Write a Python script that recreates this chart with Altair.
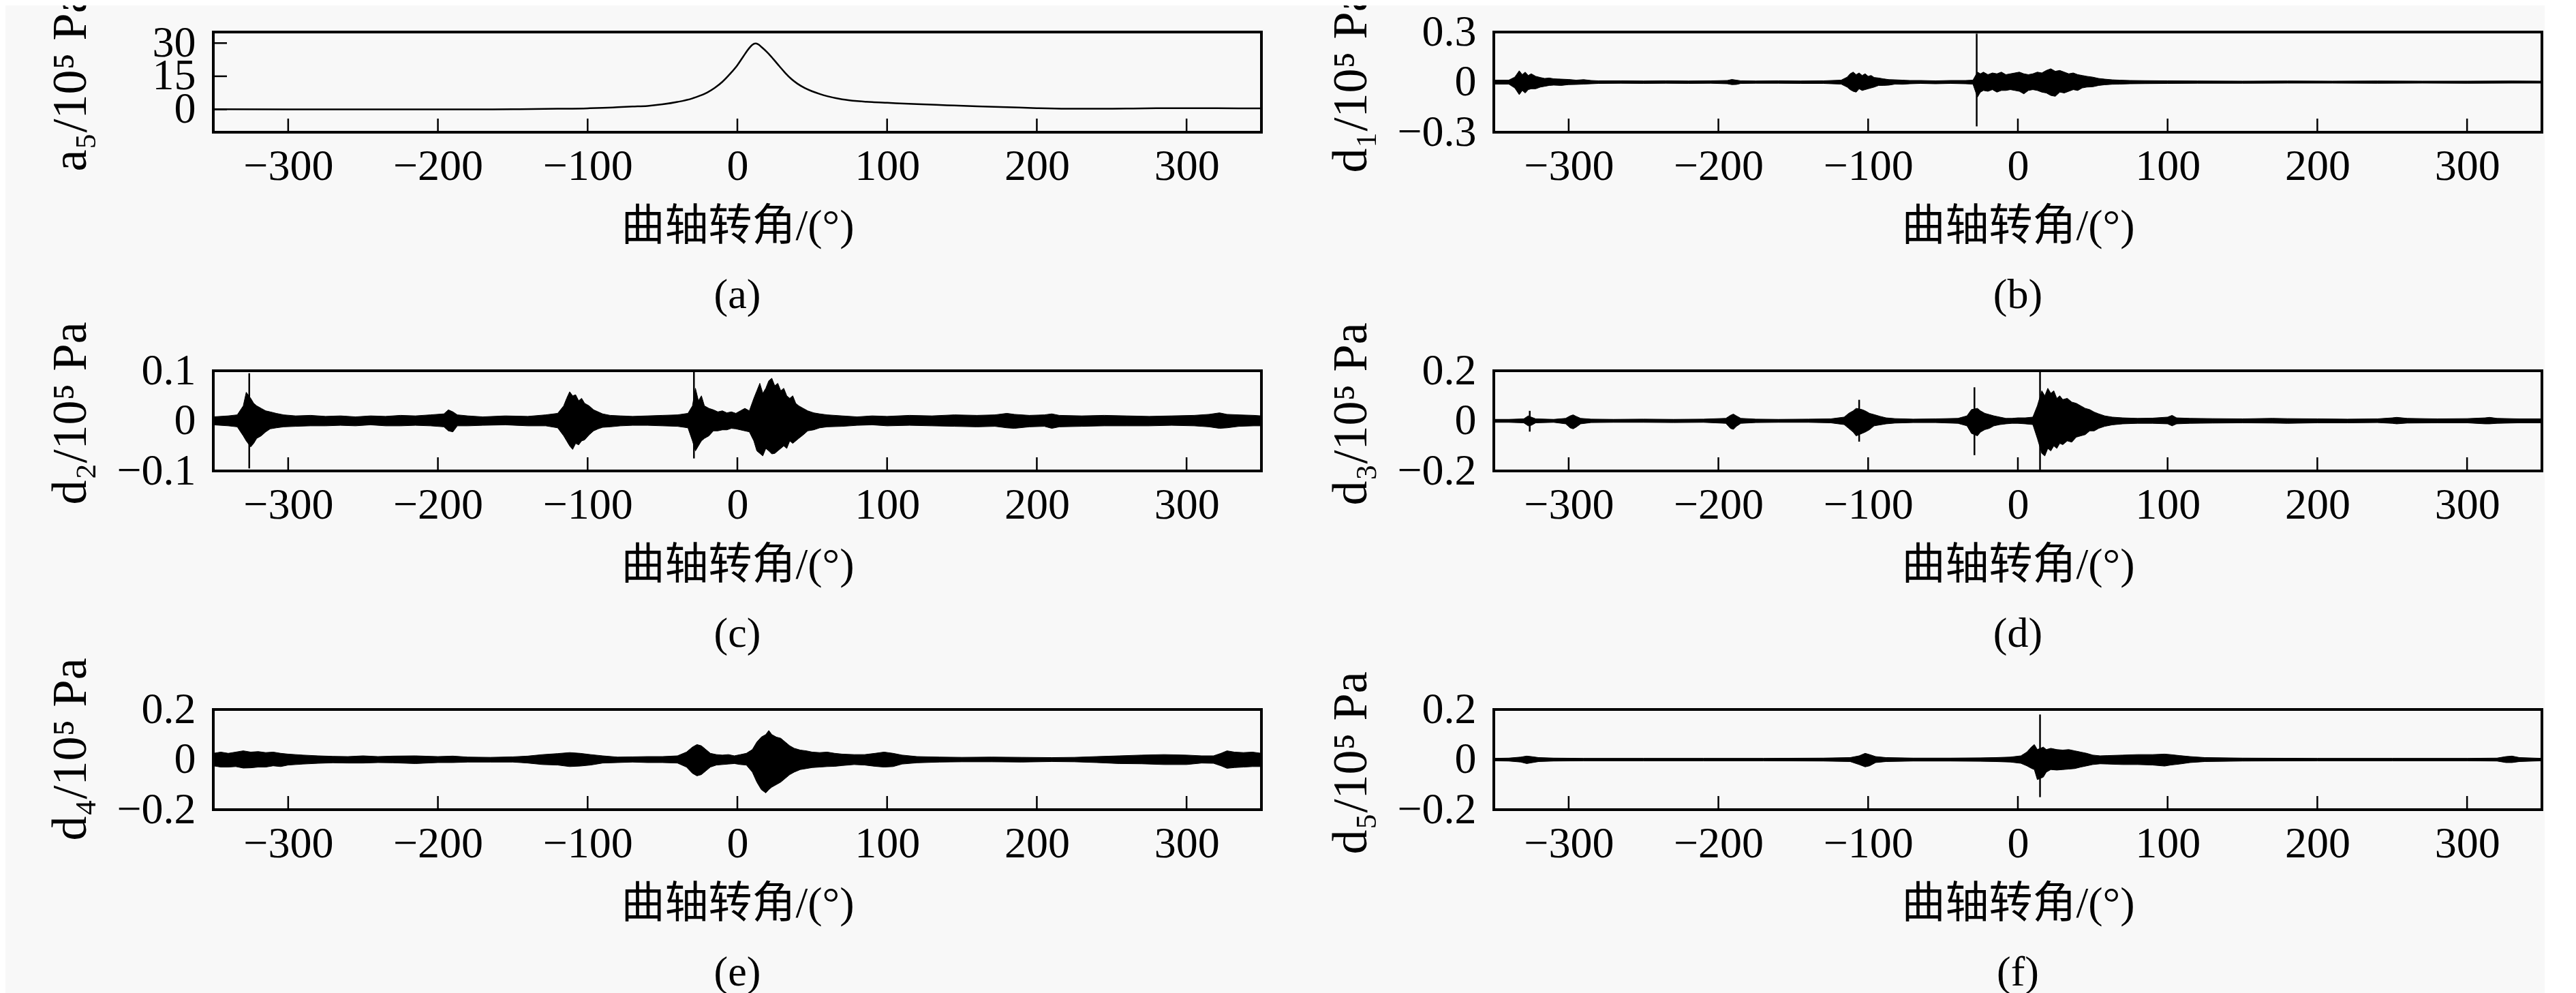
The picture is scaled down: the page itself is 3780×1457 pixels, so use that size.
import altair as alt
import pandas as pd

FONT = "Liberation Serif, Noto Sans CJK SC"
W, H = 1538, 147
X_DOMAIN = [-350, 350]
X_TICKS = [-300, -200, -100, 0, 100, 200, 300]
X_TITLE = "曲轴转角/(°)"

# (a) approximation a5 : (angle, value)
a5 = [(-350, 0.1), (-300, 0.05), (-250, 0.0), (-200, 0.0), (-150, 0.1), (-120, 0.3),
      (-100, 0.5), (-90, 0.7), (-80, 1.0), (-70, 1.3), (-60, 1.6), (-50, 2.3), (-40, 3.4),
      (-30, 5.0), (-25, 6.2), (-20, 7.7), (-15, 9.8), (-10, 12.5), (-5, 16.0), (0, 20.0),
      (4, 24.0), (8, 27.8), (10, 29.2), (12, 29.8), (14, 29.4), (16, 28.3), (20, 25.8),
      (24, 22.8), (28, 19.6), (32, 16.5), (36, 13.8), (40, 11.7), (45, 9.7), (50, 8.2),
      (55, 7.0), (60, 6.0), (70, 4.6), (80, 3.8), (90, 3.3), (100, 3.0), (120, 2.4),
      (140, 1.9), (160, 1.4), (180, 1.0), (200, 0.6), (220, 0.35), (240, 0.3), (260, 0.4),
      (280, 0.55), (300, 0.6), (320, 0.55), (350, 0.5)]

# detail signals: envelope (angle, upper, lower)
d1 = [(-350,.012,-.012),(-340,.012,-.012),(-336,.03,-.035),(-333,.068,-.075),(-331,.045,-.05),(-329,.06,-.065),(-327,.04,-.045),(-325,.05,-.04),(-322,.035,-.04),(-319,.028,-.03),(-316,.022,-.025),(-313,.025,-.02),(-310,.02,-.018),(-305,.018,-.02),(-300,.016,-.015),(-295,.012,-.014),(-290,.015,-.012),(-285,.01,-.01),(-280,.008,-.008),(-265,.008,-.007),(-250,.007,-.008),(-235,.008,-.007),(-220,.007,-.008),(-205,.008,-.007),(-194,.01,-.01),(-191,.016,-.015),(-188,.012,-.014),(-185,.008,-.008),(-175,.007,-.007),(-160,.008,-.007),(-145,.007,-.008),(-130,.008,-.008),(-118,.012,-.012),(-114,.03,-.03),(-112,.05,-.045),(-110,.06,-.055),(-108,.045,-.06),(-106,.055,-.04),(-104,.04,-.05),(-102,.05,-.045),(-100,.035,-.04),(-98,.04,-.035),(-96,.028,-.03),(-93,.025,-.02),(-90,.02,-.02),(-86,.015,-.018),(-82,.014,-.012),(-77,.012,-.013),(-72,.01,-.01),(-65,.01,-.008),(-55,.008,-.01),(-45,.01,-.008),(-35,.01,-.01),(-30,.012,-.012),(-27,.06,-.09),(-25,.05,-.06),(-23,.06,-.05),(-20,.045,-.055),(-17,.055,-.045),(-14,.05,-.06),(-11,.06,-.05),(-8,.045,-.05),(-5,.05,-.045),(-2,.055,-.05),(1,.06,-.055),(4,.05,-.07),(7,.045,-.05),(10,.05,-.045),(13,.06,-.05),(16,.055,-.06),(19,.07,-.065),(22,.08,-.08),(25,.065,-.085),(28,.07,-.06),(31,.06,-.065),(34,.05,-.055),(37,.055,-.045),(40,.045,-.05),(43,.04,-.035),(46,.035,-.03),(50,.03,-.028),(54,.022,-.02),(58,.018,-.016),(63,.014,-.013),(68,.012,-.012),(75,.01,-.01),(85,.009,-.009),(100,.008,-.008),(120,.007,-.007),(150,.006,-.007),(180,.007,-.006),(210,.006,-.006),(240,.007,-.007),(270,.006,-.006),(300,.006,-.007),(330,.007,-.006),(350,.006,-.006)]
d1_spikes = [(-27.5, .29, -.265)]

d2 = [(-350,.008,-.008),(-340,.01,-.01),(-334,.012,-.012),(-330,.03,-.03),(-328,.057,-.04),(-325,.045,-.052),(-323,.035,-.045),(-321,.03,-.035),(-318,.025,-.03),(-315,.02,-.022),(-312,.018,-.016),(-308,.015,-.014),(-303,.012,-.012),(-295,.01,-.011),(-285,.011,-.01),(-275,.009,-.01),(-265,.01,-.009),(-255,.008,-.01),(-245,.01,-.008),(-235,.009,-.01),(-225,.011,-.01),(-215,.01,-.009),(-205,.012,-.01),(-196,.014,-.012),(-193,.022,-.02),(-190,.018,-.022),(-187,.012,-.01),(-180,.01,-.01),(-170,.008,-.009),(-155,.01,-.008),(-140,.009,-.01),(-128,.012,-.01),(-120,.015,-.014),(-116,.03,-.03),(-114,.045,-.04),(-112,.058,-.05),(-110,.05,-.057),(-108,.052,-.045),(-106,.04,-.048),(-104,.045,-.04),(-102,.035,-.038),(-99,.03,-.028),(-96,.022,-.02),(-93,.018,-.016),(-90,.014,-.013),(-85,.011,-.012),(-78,.01,-.01),(-70,.009,-.009),(-60,.01,-.009),(-50,.011,-.01),(-40,.012,-.011),(-33,.015,-.014),(-30,.03,-.04),(-28,.065,-.06),(-26,.04,-.05),(-24,.05,-.04),(-22,.03,-.035),(-19,.025,-.03),(-16,.022,-.02),(-13,.018,-.02),(-10,.02,-.018),(-7,.016,-.018),(-4,.018,-.015),(-1,.015,-.016),(2,.02,-.018),(5,.025,-.02),(8,.02,-.022),(11,.045,-.04),(13,.06,-.06),(15,.075,-.065),(17,.055,-.07),(19,.065,-.055),(21,.08,-.06),(23,.085,-.066),(25,.07,-.065),(27,.075,-.06),(29,.06,-.055),(31,.065,-.05),(33,.05,-.055),(35,.045,-.04),(37,.05,-.045),(39,.035,-.04),(41,.03,-.035),(44,.025,-.028),(47,.02,-.02),(51,.016,-.018),(55,.014,-.014),(60,.012,-.012),(70,.01,-.011),(80,.008,-.009),(90,.01,-.008),(100,.009,-.01),(115,.011,-.009),(130,.01,-.01),(145,.012,-.011),(160,.011,-.012),(172,.012,-.011),(180,.015,-.014),(185,.013,-.015),(195,.011,-.012),(205,.012,-.011),(210,.014,-.015),(215,.011,-.012),(230,.01,-.011),(245,.011,-.01),(260,.01,-.01),(275,.009,-.01),(290,.01,-.009),(305,.011,-.01),(315,.013,-.012),(322,.016,-.015),(327,.013,-.014),(335,.012,-.011),(345,.011,-.01),(350,.01,-.01)]
d2_spikes = [(-326, .095, -.095), (-29, .098, -.075)]

d3 = [(-350,.006,-.006),(-340,.006,-.006),(-330,.008,-.008),(-327,.02,-.02),(-325,.015,-.018),(-322,.008,-.008),(-310,.006,-.006),(-302,.01,-.012),(-299,.02,-.028),(-297,.024,-.032),(-295,.018,-.025),(-292,.01,-.012),(-285,.007,-.007),(-270,.006,-.006),(-250,.007,-.006),(-230,.006,-.007),(-210,.007,-.006),(-195,.01,-.01),(-192,.022,-.03),(-190,.027,-.034),(-188,.02,-.022),(-185,.01,-.01),(-175,.007,-.007),(-160,.006,-.006),(-140,.007,-.006),(-125,.008,-.008),(-116,.015,-.015),(-113,.03,-.03),(-110,.04,-.045),(-108,.05,-.06),(-104,.045,-.05),(-102,.04,-.045),(-99,.03,-.035),(-96,.025,-.02),(-92,.018,-.016),(-88,.012,-.012),(-82,.009,-.009),(-70,.007,-.007),(-55,.008,-.007),(-40,.01,-.01),(-34,.02,-.02),(-31,.045,-.05),(-27,.05,-.06),(-25,.04,-.045),(-22,.03,-.035),(-19,.025,-.03),(-16,.02,-.02),(-12,.015,-.015),(-8,.01,-.012),(-4,.01,-.01),(0,.012,-.01),(5,.012,-.012),(10,.015,-.015),(13,.06,-.07),(16,.12,-.13),(18,.1,-.14),(20,.13,-.11),(22,.11,-.12),(24,.12,-.1),(26,.09,-.11),(28,.1,-.09),(30,.085,-.095),(33,.09,-.08),(36,.075,-.085),(39,.07,-.065),(42,.06,-.06),(45,.05,-.055),(48,.045,-.04),(51,.035,-.04),(54,.028,-.03),(58,.02,-.022),(63,.015,-.016),(70,.012,-.012),(80,.01,-.01),(90,.011,-.01),(100,.015,-.012),(103,.022,-.02),(106,.012,-.012),(115,.01,-.01),(130,.009,-.009),(150,.008,-.008),(170,.01,-.009),(180,.009,-.01),(200,.008,-.008),(220,.007,-.008),(240,.008,-.007),(250,.012,-.01),(253,.014,-.012),(260,.01,-.009),(280,.008,-.008),(300,.009,-.008),(312,.012,-.012),(315,.014,-.012),(320,.01,-.01),(335,.008,-.008),(350,.008,-.008)]
d3_spikes = [(-326, .04, -.043), (-106, .084, -.083), (-29, .134, -.137), (14.8, .198, -.195)]

d4 = [(-350,.025,-.025),(-345,.03,-.03),(-340,.025,-.03),(-335,.03,-.028),(-330,.035,-.034),(-325,.03,-.033),(-320,.032,-.03),(-315,.028,-.03),(-310,.03,-.025),(-305,.025,-.028),(-300,.022,-.022),(-295,.02,-.02),(-290,.018,-.018),(-280,.015,-.015),(-270,.013,-.013),(-260,.012,-.014),(-250,.015,-.014),(-240,.012,-.012),(-230,.014,-.013),(-215,.015,-.016),(-200,.012,-.012),(-190,.014,-.012),(-180,.01,-.01),(-165,.009,-.01),(-150,.011,-.01),(-140,.014,-.014),(-130,.02,-.02),(-120,.024,-.022),(-112,.028,-.028),(-105,.025,-.026),(-98,.02,-.022),(-90,.015,-.014),(-80,.01,-.012),(-70,.011,-.01),(-60,.012,-.012),(-50,.012,-.012),(-40,.015,-.014),(-34,.03,-.03),(-30,.05,-.055),(-27,.06,-.065),(-24,.055,-.06),(-21,.04,-.045),(-18,.025,-.03),(-14,.02,-.022),(-10,.018,-.02),(-6,.02,-.018),(-2,.015,-.016),(2,.02,-.02),(6,.025,-.022),(10,.04,-.05),(13,.07,-.09),(16,.09,-.12),(19,.1,-.133),(21,.116,-.12),(23,.1,-.11),(26,.09,-.1),(29,.085,-.09),(32,.07,-.075),(35,.055,-.06),(38,.045,-.05),(42,.038,-.04),(46,.035,-.036),(50,.03,-.032),(55,.028,-.03),(60,.03,-.028),(65,.025,-.027),(70,.022,-.024),(78,.02,-.02),(85,.02,-.022),(92,.025,-.027),(98,.03,-.03),(104,.025,-.028),(110,.018,-.018),(120,.012,-.013),(135,.01,-.01),(150,.009,-.009),(170,.01,-.009),(190,.009,-.01),(210,.008,-.008),(225,.009,-.009),(240,.012,-.012),(255,.015,-.016),(270,.018,-.017),(285,.02,-.02),(300,.018,-.02),(310,.015,-.014),(318,.015,-.015),(323,.025,-.025),(327,.035,-.035),(332,.03,-.032),(338,.028,-.03),(344,.03,-.028),(350,.025,-.028)]
d4_spikes = []

d5 = [(-350,.005,-.005),(-340,.006,-.006),(-332,.01,-.01),(-328,.014,-.016),(-325,.012,-.013),(-320,.008,-.008),(-310,.006,-.006),(-290,.005,-.005),(-250,.005,-.005),(-210,.005,-.005),(-170,.005,-.005),(-130,.006,-.006),(-112,.008,-.008),(-106,.015,-.02),(-102,.025,-.029),(-99,.02,-.025),(-95,.012,-.012),(-88,.008,-.008),(-70,.006,-.006),(-45,.006,-.006),(-25,.007,-.007),(-15,.008,-.008),(-5,.01,-.01),(2,.015,-.015),(6,.03,-.025),(9,.05,-.035),(11,.06,-.04),(13,.04,-.08),(17,.05,-.07),(19,.04,-.05),(22,.045,-.04),(26,.04,-.042),(30,.038,-.04),(34,.04,-.038),(38,.035,-.036),(42,.03,-.03),(46,.025,-.025),(50,.018,-.02),(55,.015,-.017),(60,.016,-.018),(70,.018,-.02),(80,.02,-.02),(90,.02,-.022),(98,.022,-.026),(102,.02,-.022),(108,.016,-.018),(115,.012,-.012),(125,.008,-.008),(150,.006,-.006),(200,.005,-.005),(250,.005,-.005),(300,.005,-.005),(320,.006,-.006),(326,.012,-.012),(330,.014,-.012),(335,.008,-.008),(350,.005,-.005)]
d5_spikes = [(14.8, .18, -.15)]

# panel axes settings
a5_ydom, a5_yticks = [-10.3, 35], [0, 15, 30]
d1_ydom, d1_yticks = [-0.3, 0.3], [-0.3, 0, 0.3]
d2_ydom, d2_yticks = [-0.1, 0.1], [-0.1, 0, 0.1]
d3_ydom, d3_yticks = [-0.2, 0.2], [-0.2, 0, 0.2]
d4_ydom, d4_yticks = [-0.2, 0.2], [-0.2, 0, 0.2]
d5_ydom, d5_yticks = [-0.2, 0.2], [-0.2, 0, 0.2]


def encs(ydom, yticks, fmt, ytitle, ty):
    xe = alt.X("x:Q", scale=alt.Scale(domain=X_DOMAIN, nice=False, zero=False),
               axis=alt.Axis(values=X_TICKS, title=X_TITLE, titleY=106, labelPadding=18))
    ye = alt.Y("y:Q", scale=alt.Scale(domain=ydom, nice=False, zero=False),
               axis=alt.Axis(values=yticks, format=fmt, title=ytitle, titleX=-188,
                             titleY=ty, titleAngle=270, titleBaseline="alphabetic",
                             titleFontSize=72, labelPadding=26))
    return xe, ye


def tick_layers(xe, ye, yticks):
    xt = alt.Chart(pd.DataFrame({"x": X_TICKS})).mark_rule(color="black", strokeWidth=2.5).encode(
        x=xe, y=alt.value(H), y2=alt.value(H - 20))
    yt = alt.Chart(pd.DataFrame({"y": yticks})).mark_rule(color="black", strokeWidth=2.5).encode(
        y=ye, x=alt.value(0), x2=alt.value(20))
    return [xt, yt]


def caption(t):
    return alt.TitleParams(t, orient="bottom", offset=39, fontSize=62, font=FONT,
                           fontWeight="normal", anchor="middle", color="black")


def line_panel(series, ydom, yticks, ytitle, ty, cap):
    xe, ye = encs(ydom, yticks, "d", ytitle, ty)
    df = pd.DataFrame(series, columns=["x", "y"])
    ln = alt.Chart(df).mark_line(color="black", strokeWidth=2.5, interpolate="monotone").encode(x=xe, y=ye)
    return alt.layer(ln, *tick_layers(xe, ye, yticks)).properties(width=W, height=H, title=caption(cap))


def detail_panel(series, spikes, ydom, yticks, ytitle, ty, cap):
    xe, ye = encs(ydom, yticks, ".1~f", ytitle, ty)
    df = pd.DataFrame(series, columns=["x", "y", "y2"])
    ar = alt.Chart(df).mark_area(color="black", stroke="black", strokeWidth=1).encode(
        x=xe, y=ye, y2="y2:Q")
    layers = [ar]
    if spikes:
        sp = pd.DataFrame(spikes, columns=["x", "y", "y2"])
        layers.append(alt.Chart(sp).mark_rule(color="black", strokeWidth=2.5).encode(
            x=xe, y=ye, y2="y2:Q"))
    return alt.layer(*layers, *tick_layers(xe, ye, yticks)).properties(width=W, height=H, title=caption(cap))


pa = line_panel(a5, a5_ydom, a5_yticks, "a₅/10⁵ Pa", 72, "(a)")
pb = detail_panel(d1, d1_spikes, d1_ydom, d1_yticks, "d₁/10⁵ Pa", 72, "(b)")
pc = detail_panel(d2, d2_spikes, d2_ydom, d2_yticks, "d₂/10⁵ Pa", 62, "(c)")
pd_ = detail_panel(d3, d3_spikes, d3_ydom, d3_yticks, "d₃/10⁵ Pa", 63, "(d)")
pe = detail_panel(d4, d4_spikes, d4_ydom, d4_yticks, "d₄/10⁵ Pa", 58, "(e)")
pf = detail_panel(d5, d5_spikes, d5_ydom, d5_yticks, "d₅/10⁵ Pa", 78, "(f)")

rows = [alt.hconcat(pa, pb, spacing=341, bounds="flush"),
        alt.hconcat(pc, pd_, spacing=341, bounds="flush"),
        alt.hconcat(pe, pf, spacing=341, bounds="flush")]

chart = alt.vconcat(*rows, spacing=497, bounds="flush").configure(
    background="#f8f8f8", padding={"left": 56, "top": -26, "right": 0, "bottom": 0}
).configure_view(stroke="black", strokeWidth=4).configure_axis(
    labelFont=FONT, labelFontSize=64, labelColor="black", titleFont=FONT, titleFontSize=64,
    titleFontWeight="normal", titleColor="black", domain=False, ticks=False, tickSize=0,
    grid=False, labelOverlap=False, labelFlush=False
)

chart.save("out.html", embed_options={"renderer": "svg", "actions": False})
